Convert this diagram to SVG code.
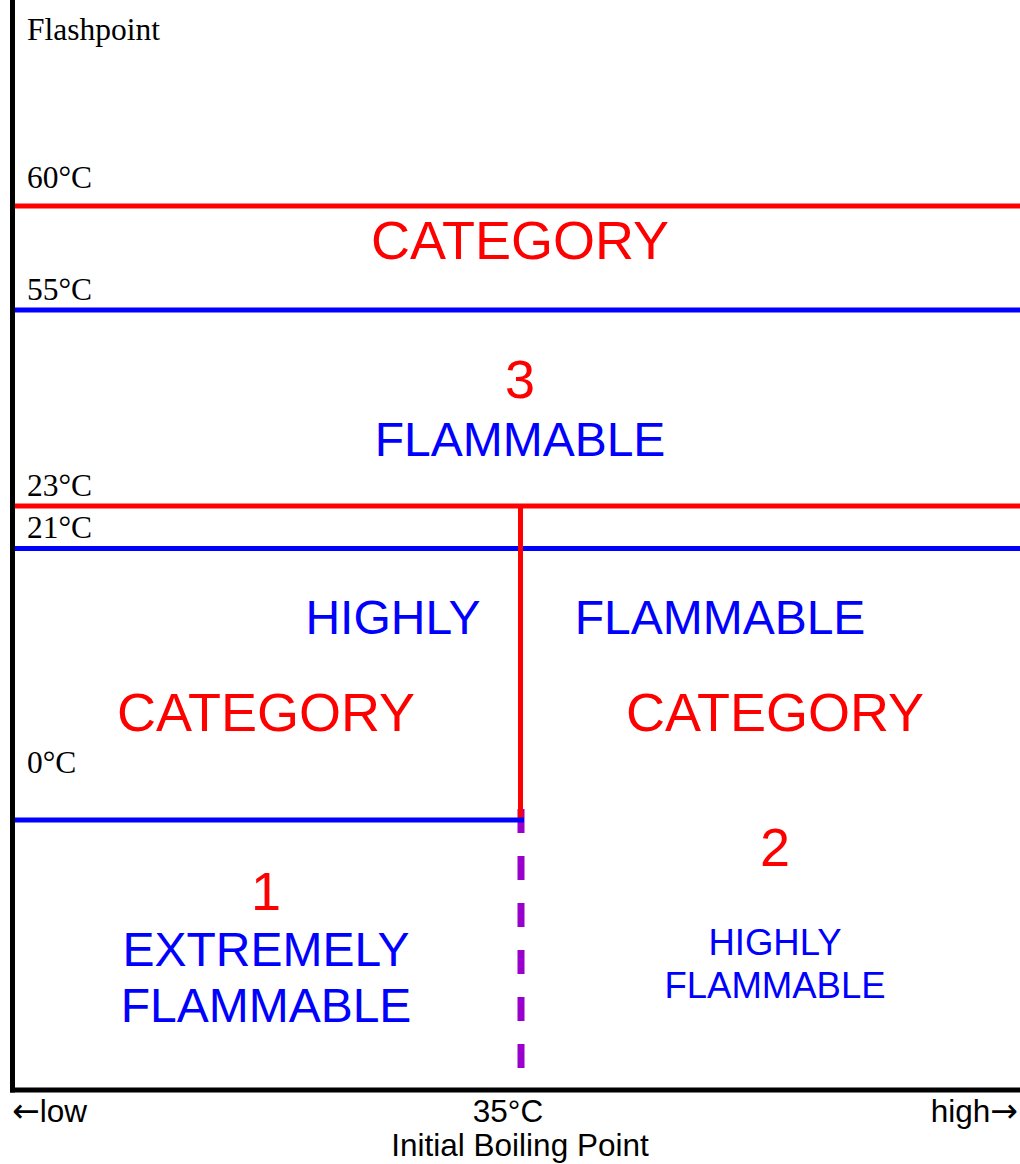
<svg xmlns="http://www.w3.org/2000/svg" width="1020" height="1164" viewBox="0 0 1020 1164">
<style>
.serif{font-family:"Liberation Serif","Times New Roman",serif;font-size:31.5px;fill:#000}
.sans{font-family:"Liberation Sans",Arial,sans-serif;text-anchor:middle}
.red{fill:#FF0000}
.blue{fill:#0000FF}
.big{font-size:54px}
.mid{font-size:48px}
.small{font-size:36.5px}
.ax{font-family:"Liberation Sans",Arial,"DejaVu Sans",sans-serif;font-size:31.5px;fill:#000}
.arr{font-family:"DejaVu Sans",sans-serif;font-size:33px}
.lr{stroke:#FF0000;stroke-width:5;fill:none}
.lb{stroke:#0000FF;stroke-width:5;fill:none}
</style>
<rect width="1020" height="1164" fill="#fff"/>
<g id="connectors">
<line x1="521" y1="809" x2="521" y2="1090" stroke="#9900CC" stroke-width="7" stroke-dasharray="24 23"/>
<line class="lr" x1="13" y1="206" x2="1020" y2="206"/>
<line class="lb" x1="13" y1="310" x2="1020" y2="310"/>
<line class="lr" x1="13" y1="506" x2="1020" y2="506"/>
<line class="lb" x1="13" y1="548.5" x2="1020" y2="548.5"/>
<line class="lr" x1="520.5" y1="506" x2="520.5" y2="820"/>
<line class="lb" x1="13" y1="820" x2="524" y2="820"/>
<line x1="12.5" y1="0" x2="12.5" y2="1092.5" stroke="#000" stroke-width="5"/>
<line x1="10" y1="1090" x2="1020" y2="1090" stroke="#000" stroke-width="5"/>
</g>
<g id="axis-labels">
<text class="serif" x="27" y="40">Flashpoint</text>
<text class="serif" x="27" y="188">60°C</text>
<text class="serif" x="27" y="300">55°C</text>
<text class="serif" x="27" y="496">23°C</text>
<text class="serif" x="27" y="538">21°C</text>
<text class="serif" x="27" y="773">0°C</text>
<text class="ax" x="12" y="1122"><tspan class="arr">←</tspan>low</text>
<text class="ax" x="508" y="1122" text-anchor="middle">35°C</text>
<text class="ax" x="1018" y="1122" text-anchor="end">high<tspan class="arr">→</tspan></text>
<text class="ax" x="520" y="1156" text-anchor="middle">Initial Boiling Point</text>
</g>
<g id="cat3">
<text class="sans red big" x="520" y="259">CATEGORY</text>
<text class="sans red big" x="520" y="398">3</text>
<text class="sans blue mid" x="520" y="456">FLAMMABLE</text>
</g>
<g id="cat1">
<text class="sans blue mid" x="393" y="634">HIGHLY</text>
<text class="sans red big" x="266" y="731">CATEGORY</text>
<text class="sans red big" x="266" y="910">1</text>
<text class="sans blue mid" x="266" y="966">EXTREMELY</text>
<text class="sans blue mid" x="266" y="1022">FLAMMABLE</text>
</g>
<g id="cat2">
<text class="sans blue mid" x="720" y="634">FLAMMABLE</text>
<text class="sans red big" x="775" y="731">CATEGORY</text>
<text class="sans red big" x="775" y="866">2</text>
<text class="sans blue small" x="775" y="955">HIGHLY</text>
<text class="sans blue small" x="775" y="998">FLAMMABLE</text>
</g>
</svg>
